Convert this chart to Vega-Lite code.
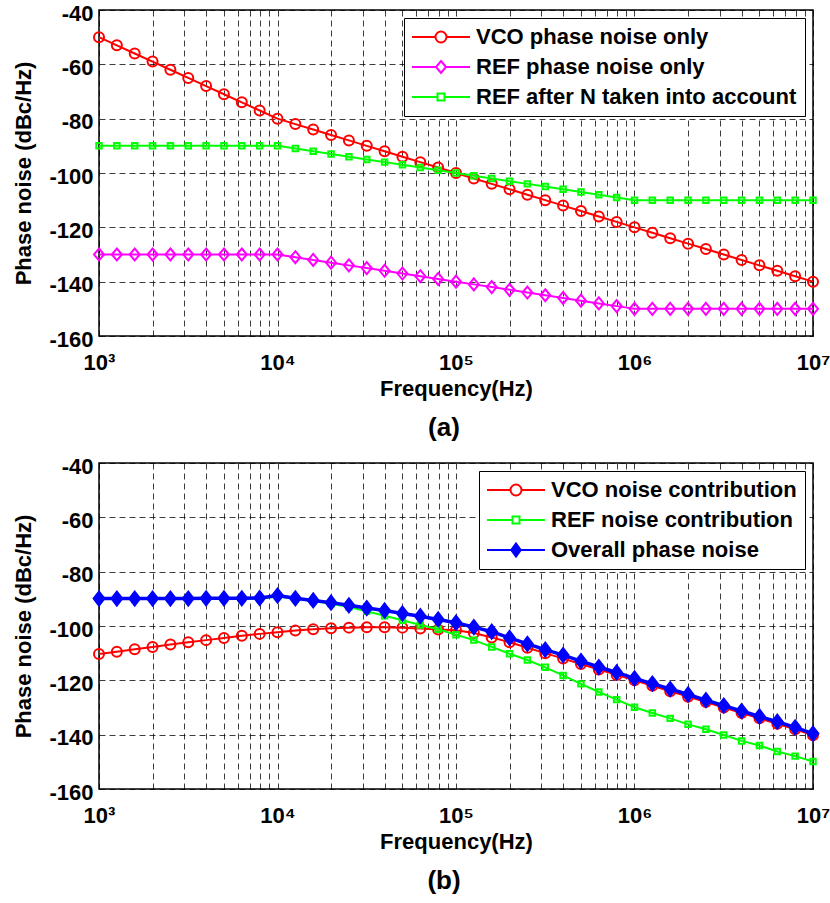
{
  "$schema": "https://vega.github.io/schema/vega-lite/v6.json",
  "background": "white",
  "padding": {"left": 12, "top": 1, "right": 0, "bottom": 0},
  "spacing": 12,
  "resolve": {
    "scale": {"shape": "independent", "stroke": "independent", "fill": "independent", "strokeWidth": "independent"},
    "legend": {"shape": "independent", "stroke": "independent", "fill": "independent", "strokeWidth": "independent"}
  },
  "datasets": {
    "a": [
      {"f": 1000, "VCO": -50, "REF": -130, "REFN": -90},
      {"f": 1258.93, "VCO": -53, "REF": -130, "REFN": -90},
      {"f": 1584.89, "VCO": -56, "REF": -130, "REFN": -90},
      {"f": 1995.26, "VCO": -59, "REF": -130, "REFN": -90},
      {"f": 2511.89, "VCO": -62, "REF": -130, "REFN": -90},
      {"f": 3162.28, "VCO": -65, "REF": -130, "REFN": -90},
      {"f": 3981.07, "VCO": -68, "REF": -130, "REFN": -90},
      {"f": 5011.87, "VCO": -71, "REF": -130, "REFN": -90},
      {"f": 6309.57, "VCO": -74, "REF": -130, "REFN": -90},
      {"f": 7943.28, "VCO": -77, "REF": -130, "REFN": -90},
      {"f": 10000, "VCO": -80, "REF": -130, "REFN": -90},
      {"f": 12589.3, "VCO": -82, "REF": -131, "REFN": -91},
      {"f": 15848.9, "VCO": -84, "REF": -132, "REFN": -92},
      {"f": 19952.6, "VCO": -86, "REF": -133, "REFN": -93},
      {"f": 25118.9, "VCO": -88, "REF": -134, "REFN": -94},
      {"f": 31622.8, "VCO": -90, "REF": -135, "REFN": -95},
      {"f": 39810.7, "VCO": -92, "REF": -136, "REFN": -96},
      {"f": 50118.7, "VCO": -94, "REF": -137, "REFN": -97},
      {"f": 63095.7, "VCO": -96, "REF": -138, "REFN": -98},
      {"f": 79432.8, "VCO": -98, "REF": -139, "REFN": -99},
      {"f": 100000, "VCO": -100, "REF": -140, "REFN": -100},
      {"f": 125893, "VCO": -102, "REF": -141, "REFN": -101},
      {"f": 158489, "VCO": -104, "REF": -142, "REFN": -102},
      {"f": 199526, "VCO": -106, "REF": -143, "REFN": -103},
      {"f": 251189, "VCO": -108, "REF": -144, "REFN": -104},
      {"f": 316228, "VCO": -110, "REF": -145, "REFN": -105},
      {"f": 398107, "VCO": -112, "REF": -146, "REFN": -106},
      {"f": 501187, "VCO": -114, "REF": -147, "REFN": -107},
      {"f": 630957, "VCO": -116, "REF": -148, "REFN": -108},
      {"f": 794328, "VCO": -118, "REF": -149, "REFN": -109},
      {"f": 1000000, "VCO": -120, "REF": -150, "REFN": -110},
      {"f": 1258925, "VCO": -122, "REF": -150, "REFN": -110},
      {"f": 1584893, "VCO": -124, "REF": -150, "REFN": -110},
      {"f": 1995262, "VCO": -126, "REF": -150, "REFN": -110},
      {"f": 2511886, "VCO": -128, "REF": -150, "REFN": -110},
      {"f": 3162278, "VCO": -130, "REF": -150, "REFN": -110},
      {"f": 3981072, "VCO": -132, "REF": -150, "REFN": -110},
      {"f": 5011872, "VCO": -134, "REF": -150, "REFN": -110},
      {"f": 6309573, "VCO": -136, "REF": -150, "REFN": -110},
      {"f": 7943282, "VCO": -138, "REF": -150, "REFN": -110},
      {"f": 10000000, "VCO": -140, "REF": -150, "REFN": -110}
    ],
    "b": [
      {"f": 1000, "VCOC": -110.3, "REFC": -90.0, "ALL": -89.9},
      {"f": 1258.93, "VCOC": -109.5, "REFC": -90.0, "ALL": -89.9},
      {"f": 1584.89, "VCOC": -108.6, "REFC": -90.0, "ALL": -89.9},
      {"f": 1995.26, "VCOC": -107.7, "REFC": -90.0, "ALL": -89.9},
      {"f": 2511.89, "VCOC": -106.8, "REFC": -90.0, "ALL": -89.9},
      {"f": 3162.28, "VCOC": -106.0, "REFC": -90.0, "ALL": -89.9},
      {"f": 3981.07, "VCOC": -105.2, "REFC": -90.0, "ALL": -89.8},
      {"f": 5011.87, "VCOC": -104.4, "REFC": -90.0, "ALL": -89.8},
      {"f": 6309.57, "VCOC": -103.6, "REFC": -90.0, "ALL": -89.8},
      {"f": 7943.28, "VCOC": -102.9, "REFC": -90.0, "ALL": -89.7},
      {"f": 10000, "VCOC": -102.3, "REFC": -89.1, "ALL": -88.8},
      {"f": 12589.3, "VCOC": -101.7, "REFC": -90.0, "ALL": -89.8},
      {"f": 15848.9, "VCOC": -101.2, "REFC": -90.8, "ALL": -90.6},
      {"f": 19952.6, "VCOC": -100.8, "REFC": -91.8, "ALL": -91.4},
      {"f": 25118.9, "VCOC": -100.6, "REFC": -93.0, "ALL": -92.4},
      {"f": 31622.8, "VCOC": -100.5, "REFC": -94.6, "ALL": -93.4},
      {"f": 39810.7, "VCOC": -100.5, "REFC": -96.2, "ALL": -94.3},
      {"f": 50118.7, "VCOC": -100.6, "REFC": -97.9, "ALL": -95.4},
      {"f": 63095.7, "VCOC": -100.9, "REFC": -99.6, "ALL": -96.4},
      {"f": 79432.8, "VCOC": -101.3, "REFC": -101.2, "ALL": -97.6},
      {"f": 100000, "VCOC": -101.6, "REFC": -103.2, "ALL": -98.8},
      {"f": 125893, "VCOC": -102.6, "REFC": -105.2, "ALL": -100.4},
      {"f": 158489, "VCOC": -104.2, "REFC": -107.7, "ALL": -102.1},
      {"f": 199526, "VCOC": -106.0, "REFC": -110.2, "ALL": -104.4},
      {"f": 251189, "VCOC": -108.0, "REFC": -112.5, "ALL": -106.6},
      {"f": 316228, "VCOC": -110.0, "REFC": -115.2, "ALL": -108.7},
      {"f": 398107, "VCOC": -112.0, "REFC": -118.2, "ALL": -110.7},
      {"f": 501187, "VCOC": -114.0, "REFC": -121.3, "ALL": -112.9},
      {"f": 630957, "VCOC": -116.0, "REFC": -124.3, "ALL": -115.1},
      {"f": 794328, "VCOC": -118.0, "REFC": -127.1, "ALL": -117.1},
      {"f": 1000000, "VCOC": -120.0, "REFC": -129.9, "ALL": -119.3},
      {"f": 1258925, "VCOC": -122.0, "REFC": -132.0, "ALL": -121.2},
      {"f": 1584893, "VCOC": -124.0, "REFC": -134.0, "ALL": -123.2},
      {"f": 1995262, "VCOC": -126.0, "REFC": -136.2, "ALL": -125.2},
      {"f": 2511886, "VCOC": -128.0, "REFC": -138.0, "ALL": -127.3},
      {"f": 3162278, "VCOC": -130.0, "REFC": -140.1, "ALL": -129.3},
      {"f": 3981072, "VCOC": -132.0, "REFC": -142.3, "ALL": -131.3},
      {"f": 5011872, "VCOC": -134.0, "REFC": -144.0, "ALL": -133.3},
      {"f": 6309573, "VCOC": -136.0, "REFC": -146.2, "ALL": -135.2},
      {"f": 7943282, "VCOC": -138.0, "REFC": -147.9, "ALL": -137.3},
      {"f": 10000000, "VCOC": -140.2, "REFC": -149.9, "ALL": -139.6}
    ]
  },
  "vconcat": [
    {
      "width": 714,
      "height": 326,
      "title": {"text": "(a)", "orient": "bottom", "fontSize": 26, "fontWeight": "bold", "offset": 16, "dx": -12, "color": "#000"},
      "data": {"name": "a"},
      "layer": [
        {
          "mark": {"type": "line", "color": "#FF0000", "strokeWidth": 2},
          "encoding": {
            "x": {"field": "f", "type": "quantitative", "title": "Frequency(Hz)",
              "scale": {"type": "log", "domain": [1000, 10000000], "nice": false},
              "axis": {"values": [1000,2000,3000,4000,5000,6000,7000,8000,9000,10000,20000,30000,40000,50000,60000,70000,80000,90000,100000,200000,300000,400000,500000,600000,700000,800000,900000,1000000,2000000,3000000,4000000,5000000,6000000,7000000,8000000,9000000,10000000],
                "labelExpr": "datum.value == 1000 ? '10³' : datum.value == 10000 ? '10⁴' : datum.value == 100000 ? '10⁵' : datum.value == 1000000 ? '10⁶' : datum.value == 10000000 ? '10⁷' : ''"}},
            "y": {"field": "VCO", "type": "quantitative", "title": "Phase noise (dBc/Hz)",
              "scale": {"domain": [-160, -40], "nice": false},
              "axis": {"values": [-160, -140, -120, -100, -80, -60, -40], "labelExpr": "'' + datum.value"}}
          }
        },
        {
          "mark": {"type": "point", "shape": "circle", "size": 100, "color": "#FF0000", "filled": false, "strokeWidth": 2, "opacity": 1},
          "encoding": {
            "x": {"field": "f", "type": "quantitative", "title": "Frequency(Hz)"},
            "y": {"field": "VCO", "type": "quantitative", "title": "Phase noise (dBc/Hz)"}
          }
        },
        {
          "mark": {"type": "line", "color": "#FF00FF", "strokeWidth": 2},
          "encoding": {
            "x": {"field": "f", "type": "quantitative", "title": "Frequency(Hz)"},
            "y": {"field": "REF", "type": "quantitative", "title": "Phase noise (dBc/Hz)"}
          }
        },
        {
          "mark": {"type": "point", "shape": "M0,-1.2L1,0L0,1.2L-1,0Z", "size": 100, "color": "#FF00FF", "filled": false, "strokeWidth": 2, "opacity": 1},
          "encoding": {
            "x": {"field": "f", "type": "quantitative", "title": "Frequency(Hz)"},
            "y": {"field": "REF", "type": "quantitative", "title": "Phase noise (dBc/Hz)"}
          }
        },
        {
          "mark": {"type": "line", "color": "#00FF00", "strokeWidth": 2},
          "encoding": {
            "x": {"field": "f", "type": "quantitative", "title": "Frequency(Hz)"},
            "y": {"field": "REFN", "type": "quantitative", "title": "Phase noise (dBc/Hz)"}
          }
        },
        {
          "mark": {"type": "point", "shape": "square", "size": 30, "color": "#00FF00", "filled": false, "strokeWidth": 2, "opacity": 1},
          "encoding": {
            "x": {"field": "f", "type": "quantitative", "title": "Frequency(Hz)"},
            "y": {"field": "REFN", "type": "quantitative", "title": "Phase noise (dBc/Hz)"}
          }
        },
        {
          "transform": [{"filter": "false"}],
          "mark": {"type": "point", "filled": false, "strokeWidth": 2, "size": 100, "opacity": 1},
          "encoding": {
            "shape": {"field": "series", "type": "nominal",
              "scale": {"domain": ["VCO", "REF", "REFN"], "range": [
                "M-5.8,0H-1.1M1.1,0H5.8M1.1,0A1.1,1.1,0,1,1,-1.1,0A1.1,1.1,0,1,1,1.1,0Z",
                "M-5.8,0H-1M1,0H5.8M0,-1.2L1,0L0,1.2L-1,0Z",
                "M-5.8,0H-0.7M0.7,0H5.8M-0.7,-0.7H0.7V0.7H-0.7Z"]},
              "legend": {"title": null, "orient": "top-right", "offset": 8, "padding": 8, "symbolOffset": 18, "labelOffset": 24, "rowPadding": 8, "symbolSize": 100, "symbolStrokeWidth": 2,
                "labelExpr": "datum.label == 'VCO' ? 'VCO phase noise only' : datum.label == 'REF' ? 'REF phase noise only' : 'REF after N taken into account'"}},
            "stroke": {"field": "series", "type": "nominal",
              "scale": {"domain": ["VCO", "REF", "REFN"], "range": ["#FF0000", "#FF00FF", "#00FF00"]},
              "legend": {"title": null, "orient": "top-right", "offset": 8, "padding": 8, "symbolOffset": 18, "labelOffset": 24, "rowPadding": 8, "symbolSize": 100, "symbolStrokeWidth": 2,
                "labelExpr": "datum.label == 'VCO' ? 'VCO phase noise only' : datum.label == 'REF' ? 'REF phase noise only' : 'REF after N taken into account'"}}
          }
        }
      ]
    },
    {
      "width": 714,
      "height": 326,
      "title": {"text": "(b)", "orient": "bottom", "fontSize": 26, "fontWeight": "bold", "offset": 16, "dx": -12, "color": "#000"},
      "data": {"name": "b"},
      "layer": [
        {
          "mark": {"type": "line", "color": "#FF0000", "strokeWidth": 2},
          "encoding": {
            "x": {"field": "f", "type": "quantitative", "title": "Frequency(Hz)",
              "scale": {"type": "log", "domain": [1000, 10000000], "nice": false},
              "axis": {"values": [1000,2000,3000,4000,5000,6000,7000,8000,9000,10000,20000,30000,40000,50000,60000,70000,80000,90000,100000,200000,300000,400000,500000,600000,700000,800000,900000,1000000,2000000,3000000,4000000,5000000,6000000,7000000,8000000,9000000,10000000],
                "labelExpr": "datum.value == 1000 ? '10³' : datum.value == 10000 ? '10⁴' : datum.value == 100000 ? '10⁵' : datum.value == 1000000 ? '10⁶' : datum.value == 10000000 ? '10⁷' : ''"}},
            "y": {"field": "VCOC", "type": "quantitative", "title": "Phase noise (dBc/Hz)",
              "scale": {"domain": [-160, -40], "nice": false},
              "axis": {"values": [-160, -140, -120, -100, -80, -60, -40], "labelExpr": "'' + datum.value"}}
          }
        },
        {
          "mark": {"type": "point", "shape": "circle", "size": 100, "color": "#FF0000", "filled": false, "strokeWidth": 2, "opacity": 1},
          "encoding": {
            "x": {"field": "f", "type": "quantitative", "title": "Frequency(Hz)"},
            "y": {"field": "VCOC", "type": "quantitative", "title": "Phase noise (dBc/Hz)"}
          }
        },
        {
          "mark": {"type": "line", "color": "#00FF00", "strokeWidth": 2},
          "encoding": {
            "x": {"field": "f", "type": "quantitative", "title": "Frequency(Hz)"},
            "y": {"field": "REFC", "type": "quantitative", "title": "Phase noise (dBc/Hz)"}
          }
        },
        {
          "mark": {"type": "point", "shape": "square", "size": 30, "color": "#00FF00", "filled": false, "strokeWidth": 2, "opacity": 1},
          "encoding": {
            "x": {"field": "f", "type": "quantitative", "title": "Frequency(Hz)"},
            "y": {"field": "REFC", "type": "quantitative", "title": "Phase noise (dBc/Hz)"}
          }
        },
        {
          "mark": {"type": "line", "color": "#0000FF", "strokeWidth": 3.5},
          "encoding": {
            "x": {"field": "f", "type": "quantitative", "title": "Frequency(Hz)"},
            "y": {"field": "ALL", "type": "quantitative", "title": "Phase noise (dBc/Hz)"}
          }
        },
        {
          "mark": {"type": "point", "shape": "M0,-1.3L1,0L0,1.3L-1,0Z", "size": 130, "color": "#0000FF", "filled": true, "stroke": "#0000FF", "strokeWidth": 1.5, "opacity": 1},
          "encoding": {
            "x": {"field": "f", "type": "quantitative", "title": "Frequency(Hz)"},
            "y": {"field": "ALL", "type": "quantitative", "title": "Phase noise (dBc/Hz)"}
          }
        },
        {
          "transform": [{"filter": "false"}],
          "mark": {"type": "point", "strokeWidth": 2, "size": 100, "opacity": 1},
          "encoding": {
            "shape": {"field": "series", "type": "nominal",
              "scale": {"domain": ["VCOC", "REFC", "ALL"], "range": [
                "M-5.8,0H-1.1M1.1,0H5.8M1.1,0A1.1,1.1,0,1,1,-1.1,0A1.1,1.1,0,1,1,1.1,0Z",
                "M-5.8,0H-0.7M0.7,0H5.8M-0.7,-0.7H0.7V0.7H-0.7Z",
                "M-5.8,0H5.8M0,-1.3L0.95,0L0,1.3L-0.95,0Z"]},
              "legend": {"title": null, "orient": "top-right", "offset": 8, "padding": 8, "symbolOffset": 18, "labelOffset": 24, "rowPadding": 8, "symbolSize": 100,
                "labelExpr": "datum.label == 'VCOC' ? 'VCO noise contribution' : datum.label == 'REFC' ? 'REF noise contribution' : 'Overall phase noise'"}},
            "stroke": {"field": "series", "type": "nominal",
              "scale": {"domain": ["VCOC", "REFC", "ALL"], "range": ["#FF0000", "#00FF00", "#0000FF"]},
              "legend": {"title": null, "orient": "top-right", "offset": 8, "padding": 8, "symbolOffset": 18, "labelOffset": 24, "rowPadding": 8, "symbolSize": 100,
                "labelExpr": "datum.label == 'VCOC' ? 'VCO noise contribution' : datum.label == 'REFC' ? 'REF noise contribution' : 'Overall phase noise'"}},
            "fill": {"field": "series", "type": "nominal",
              "scale": {"domain": ["VCOC", "REFC", "ALL"], "range": ["transparent", "transparent", "#0000FF"]},
              "legend": {"title": null, "orient": "top-right", "offset": 8, "padding": 8, "symbolOffset": 18, "labelOffset": 24, "rowPadding": 8, "symbolSize": 100,
                "labelExpr": "datum.label == 'VCOC' ? 'VCO noise contribution' : datum.label == 'REFC' ? 'REF noise contribution' : 'Overall phase noise'"}},
            "strokeWidth": {"field": "series", "type": "nominal",
              "scale": {"domain": ["VCOC", "REFC", "ALL"], "range": [2, 2, 3.5]},
              "legend": {"title": null, "orient": "top-right", "offset": 8, "padding": 8, "symbolOffset": 18, "labelOffset": 24, "rowPadding": 8, "symbolSize": 100,
                "labelExpr": "datum.label == 'VCOC' ? 'VCO noise contribution' : datum.label == 'REFC' ? 'REF noise contribution' : 'Overall phase noise'"}}
          }
        }
      ]
    }
  ],
  "config": {
    "font": "Liberation Sans",
    "view": {"stroke": "#000", "strokeWidth": 1.5},
    "axis": {
      "labelFont": "Liberation Sans", "labelFontSize": 22, "labelFontWeight": "bold", "labelColor": "#000",
      "titleFont": "Liberation Sans", "titleFontSize": 22, "titleFontWeight": "bold", "titleColor": "#000",
      "grid": true, "gridColor": "#000", "gridDash": [6, 4], "gridWidth": 0.9, "gridOpacity": 0.85,
      "ticks": false, "domain": false, "labelOverlap": false, "labelFlush": false
    },
    "axisX": {"labelPadding": 16, "titlePadding": 5},
    "axisY": {"labelPadding": 6, "titlePadding": 13, "labelOffset": 3},
    "legend": {
      "labelFont": "Liberation Sans", "labelFontSize": 22, "labelFontWeight": "bold", "labelColor": "#000", "labelLimit": 0,
      "strokeColor": "#000", "fillColor": "white"
    },
    "title": {"font": "Liberation Sans", "color": "#000"}
  }
}
